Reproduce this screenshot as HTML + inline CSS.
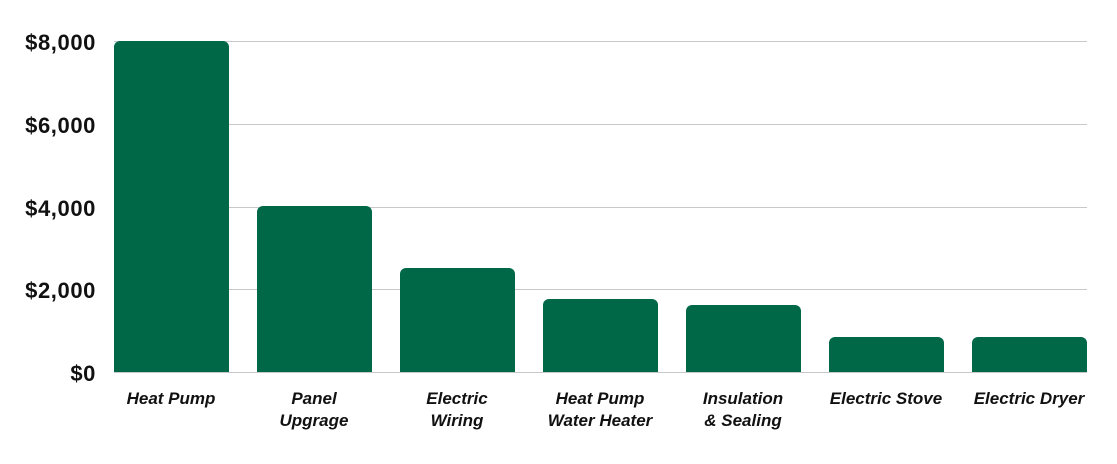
<!DOCTYPE html><html><head><style>
body{margin:0;background:#fff;width:1117px;height:459px;overflow:hidden;font-family:"Liberation Sans",sans-serif}
</style></head><body>
<svg width="1117" height="459" xmlns="http://www.w3.org/2000/svg" font-family="Liberation Sans, sans-serif">
<g stroke="#c8c8c8" stroke-width="1">
<line x1="114" x2="1087" y1="41.5" y2="41.5"/>
<line x1="114" x2="1087" y1="124.5" y2="124.5"/>
<line x1="114" x2="1087" y1="207.5" y2="207.5"/>
<line x1="114" x2="1087" y1="289.5" y2="289.5"/>
<line x1="114" x2="1087" y1="372.5" y2="372.5"/>
</g>
<g font-size="22" font-weight="bold" text-anchor="end" fill="#111" letter-spacing="0.6">
<text x="96" y="50">$8,000</text>
<text x="96" y="133">$6,000</text>
<text x="96" y="216">$4,000</text>
<text x="96" y="298">$2,000</text>
<text x="96" y="381">$0</text>
</g>
<g fill="#006847">
<path d="M114,372V47a6,6 0 0 1 6,-6H223a6,6 0 0 1 6,6V372Z"/>
<path d="M257,372V212a6,6 0 0 1 6,-6H366a6,6 0 0 1 6,6V372Z"/>
<path d="M400,372V274a6,6 0 0 1 6,-6H509a6,6 0 0 1 6,6V372Z"/>
<path d="M543,372V305a6,6 0 0 1 6,-6H652a6,6 0 0 1 6,6V372Z"/>
<path d="M686,372V311a6,6 0 0 1 6,-6H795a6,6 0 0 1 6,6V372Z"/>
<path d="M829,372V343a6,6 0 0 1 6,-6H938a6,6 0 0 1 6,6V372Z"/>
<path d="M972,372V343a6,6 0 0 1 6,-6H1081a6,6 0 0 1 6,6V372Z"/>
</g>
<g font-size="17" font-weight="bold" font-style="italic" text-anchor="middle" fill="#111">
<text x="171" y="404">Heat Pump</text>
<text x="314" y="404">Panel</text><text x="314" y="426">Upgrage</text>
<text x="457" y="404">Electric</text><text x="457" y="426">Wiring</text>
<text x="600" y="404">Heat Pump</text><text x="600" y="426">Water Heater</text>
<text x="743" y="404">Insulation</text><text x="743" y="426">&amp; Sealing</text>
<text x="886" y="404">Electric Stove</text>
<text x="1029" y="404">Electric Dryer</text>
</g>
</svg>
</body></html>
